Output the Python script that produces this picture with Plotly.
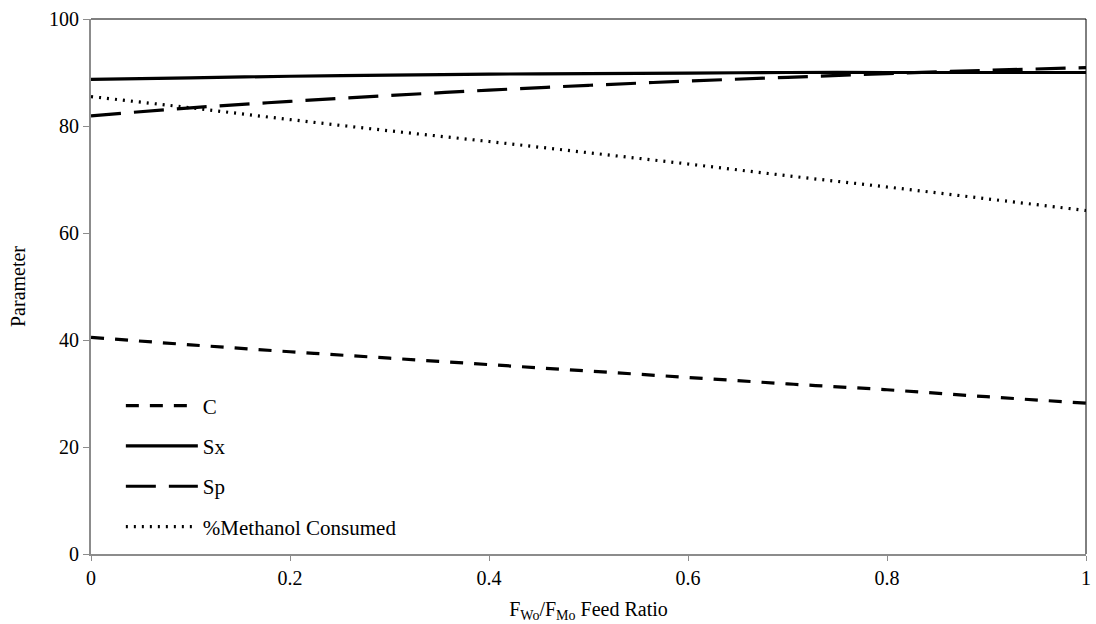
import plotly.graph_objects as go

x_vals = [0.0, 0.1, 0.2, 0.3, 0.4, 0.5, 0.6, 0.7, 0.8, 0.9, 1.0]
c_vals = [40.5, 39.1, 37.8, 36.6, 35.4, 34.2, 33.0, 31.8, 30.7, 29.4, 28.2]
sx_vals = [88.7, 89.0, 89.3, 89.5, 89.7, 89.8, 89.9, 90.0, 90.0, 90.0, 90.0]
sp_vals = [81.9, 83.4, 84.6, 85.7, 86.7, 87.6, 88.4, 89.1, 89.8, 90.4, 90.9]
meoh_vals = [85.5, 83.4, 81.2, 79.1, 77.1, 75.0, 72.9, 70.7, 68.6, 66.4, 64.2]

x_tick_vals = [0, 0.2, 0.4, 0.6, 0.8, 1]
x_tick_text = ["0", "0.2", "0.4", "0.6", "0.8", "1"]

series = [
    ("C", c_vals, "13px,11px"),
    ("Sx", sx_vals, "solid"),
    ("Sp", sp_vals, "30px,13px"),
    ("%Methanol Consumed", meoh_vals, "2px,6px"),
]

fig = go.Figure()
for i, (name, vals, dash) in enumerate(series):
    fig.add_trace(go.Scatter(
        x=x_vals, y=vals, name=name, mode="lines",
        line=dict(color="black", width=3.2, dash=dash, shape="spline"),
        legendgroup=f"g{i}",
    ))

font = "Liberation Serif, Times New Roman, serif"
fig.update_layout(
    width=1096, height=624,
    margin=dict(l=91, r=5, t=19, b=70),
    paper_bgcolor="white", plot_bgcolor="white",
    font=dict(family=font, size=20, color="black"),
    showlegend=True,
    legend=dict(
        x=0.03, y=0.315, xanchor="left", yanchor="top",
        bgcolor="rgba(0,0,0,0)", itemwidth=72,
        traceorder="grouped", tracegroupgap=10,
        font=dict(family=font, size=21, color="black"),
    ),
    xaxis=dict(
        range=[0, 1], tickmode="array", tickvals=x_tick_vals, ticktext=x_tick_text,
        showgrid=False, zeroline=False,
        showline=True, linecolor="#8c8c8c", linewidth=2,
        ticks="outside", ticklen=5, tickcolor="#8c8c8c", tickwidth=1,
        tickfont=dict(size=20),
        title=dict(text="F<sub>Wo</sub>/F<sub>Mo</sub> Feed Ratio", font=dict(size=20), standoff=14),
    ),
    yaxis=dict(
        range=[0, 100], dtick=20,
        showgrid=False, zeroline=False,
        showline=True, linecolor="#8c8c8c", linewidth=2,
        ticks="outside", ticklen=6, tickcolor="#8c8c8c", tickwidth=1,
        tickfont=dict(size=20),
        title=dict(text="Parameter", font=dict(size=20), standoff=18),
    ),
    shapes=[
        dict(type="line", xref="paper", yref="paper", x0=0, x1=1, y0=1, y1=1,
             line=dict(color="black", width=1)),
        dict(type="line", xref="paper", yref="paper", x0=1, x1=1, y0=0, y1=1,
             line=dict(color="black", width=1)),
    ],
)

fig.write_html("out.html")
